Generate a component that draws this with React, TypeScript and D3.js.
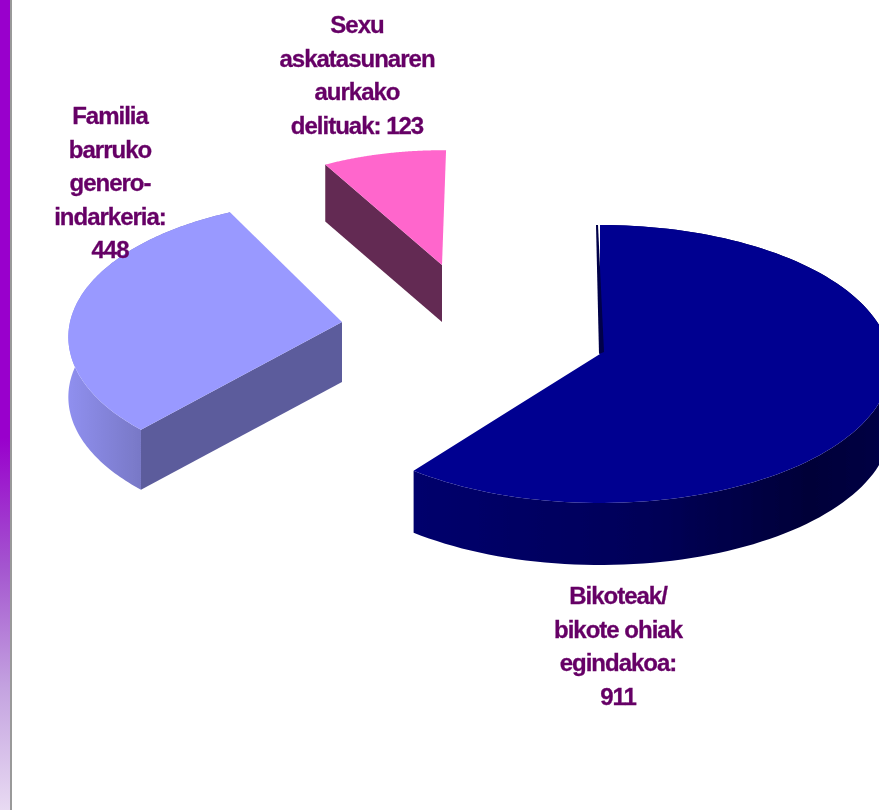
import React from "react";
import * as d3 from "d3";

const categories = ["Bikoteak/ bikote ohiak egindakoa", "Familia barruko genero-indarkeria", "Sexu askatasunaren aurkako delituak"];
const values = [911, 448, 123];
const labelLines = [
  ["Bikoteak/", "bikote ohiak", "egindakoa:", "911"],
  ["Familia", "barruko", "genero-", "indarkeria:", "448"],
  ["Sexu", "askatasunaren", "aurkako", "delituak: 123"],
];
const topColors = ["#000090", "#9999FF", "#FF66CC"];

const W = 879, H = 810;
const rad = (d: number) => (d * Math.PI) / 180;
// layout of each exploded wedge: apex, radii, perspective, extrusion depth, angle nudges
const layout = [
  { cx: 600, cy: 354, rx: 290, ry: 138.3, k: 0.072, depth: 62, a0: -1, a1: -5, lx: 618, ly: 604 },
  { cx: 342, cy: 322, rx: 272, ry: 135, k: 0.11, depth: 60, a0: 0.5, a1: 2, lx: 110, ly: 124 },
  { cx: 442, cy: 265, rx: 249, ry: 123, k: 0.072, depth: 57, a0: -1, a1: 0, lx: 357, ly: 33 },
];

const pie = d3.pie<number>().sort(null).startAngle(rad(1)).endAngle(rad(361));
const arcs = pie(values);

type L = (typeof layout)[number];
const project = (l: L, t: number): [number, number] => {
  const u = Math.cos(t), v = Math.sin(t), w = 1 + l.k * u;
  return [l.cx + (l.rx * v) / w, l.cy - (l.ry * u) / w];
};
const line = d3.line();
const rim = (l: L, a: number, b: number) =>
  d3.range(0, 121).map((i) => project(l, a + ((b - a) * i) / 120));

export default function App() {
  const geom = arcs.map((arc, i) => {
    const l = layout[i];
    const a = arc.startAngle + rad(l.a0), b = arc.endAngle + rad(l.a1);
    return { l, a, b, pts: rim(l, a, b), color: topColors[i] };
  });
  const down = (p: [number, number], d: number): [number, number] => [p[0], p[1] + d];
  const wall = (pts: [number, number][], d: number) =>
    (line([...pts, ...pts.slice().reverse().map((p) => down(p, d))]) ?? "") + "Z";
  const top = (g: (typeof geom)[number]) =>
    (line([[g.l.cx, g.l.cy], ...g.pts]) ?? "") + "Z";
  const [main, fam, sex] = geom;
  const mainStart = main.pts[0];
  return (
    <svg width={W} height={H} viewBox={`0 0 ${W} ${H}`}
      style={{ position: "absolute", left: 0, top: 0, display: "block", background: "#fff" }}>
      <defs>
        <linearGradient id="bar" x1="0" x2="0" y1="0" y2="1">
          <stop offset="0" stopColor="#9900CC" />
          <stop offset="0.54" stopColor="#9900CC" />
          <stop offset="0.7" stopColor="#A455CF" />
          <stop offset="0.85" stopColor="#C4A3E0" />
          <stop offset="1" stopColor="#E8DAF2" />
        </linearGradient>
        <linearGradient id="mw" gradientUnits="userSpaceOnUse" x1="419" x2="879" y1="0" y2="0">
          <stop offset="0" stopColor="#00006C" />
          <stop offset="0.5" stopColor="#000058" />
          <stop offset="0.85" stopColor="#000038" />
          <stop offset="1" stopColor="#000044" />
        </linearGradient>
        <linearGradient id="fw" gradientUnits="userSpaceOnUse" x1="70" x2="145" y1="0" y2="0">
          <stop offset="0" stopColor="#8F8FEE" />
          <stop offset="1" stopColor="#7777C4" />
        </linearGradient>
        <filter id="soft" x="-5%" y="-5%" width="110%" height="110%">
          <feGaussianBlur stdDeviation="0.45" />
        </filter>
      </defs>
      <rect x={0} y={0} width={10} height={H} fill="url(#bar)" />
      <rect x={10} y={0} width={2} height={H} fill="#999999" />

      <g filter="url(#soft)">
        {/* Family wedge */}
        <path d={wall(fam.pts, fam.l.depth)} fill="url(#fw)" />
        <path d={wall([[fam.l.cx, fam.l.cy], fam.pts[0]], fam.l.depth)} fill="#5C5C9C" />
        <path d={top(fam)} fill={fam.color} />

        {/* Sexual-offence wedge */}
        <path d={wall([[sex.l.cx, sex.l.cy], sex.pts[0]], sex.l.depth)} fill="#632B52" />
        <path d={top(sex)} fill={sex.color} />

        {/* Partner wedge */}
        <path d={wall(main.pts, main.l.depth)} fill="url(#mw)" />
        <path d={top(main)} fill={main.color} />
        <path d={(line([[mainStart[0] - 4, mainStart[1]], [mainStart[0] - 2, mainStart[1]], [main.l.cx + 4, main.l.cy - 2], [main.l.cx - 1, main.l.cy]]) ?? "") + "Z"} fill="#000048" />
      </g>

      <g fontFamily="'Liberation Sans', Arial, sans-serif" fontWeight="bold" fontSize={24}
        letterSpacing={-1} fill="#660066" stroke="#660066" strokeWidth={0.3} textAnchor="middle" filter="url(#soft)">
        {labelLines.map((lines, i) => (
          <text key={categories[i]}>
            {lines.map((t, j) => (
              <tspan key={j} x={layout[i].lx} y={layout[i].ly + j * 33.6}>{t}</tspan>
            ))}
          </text>
        ))}
      </g>
    </svg>
  );
}
